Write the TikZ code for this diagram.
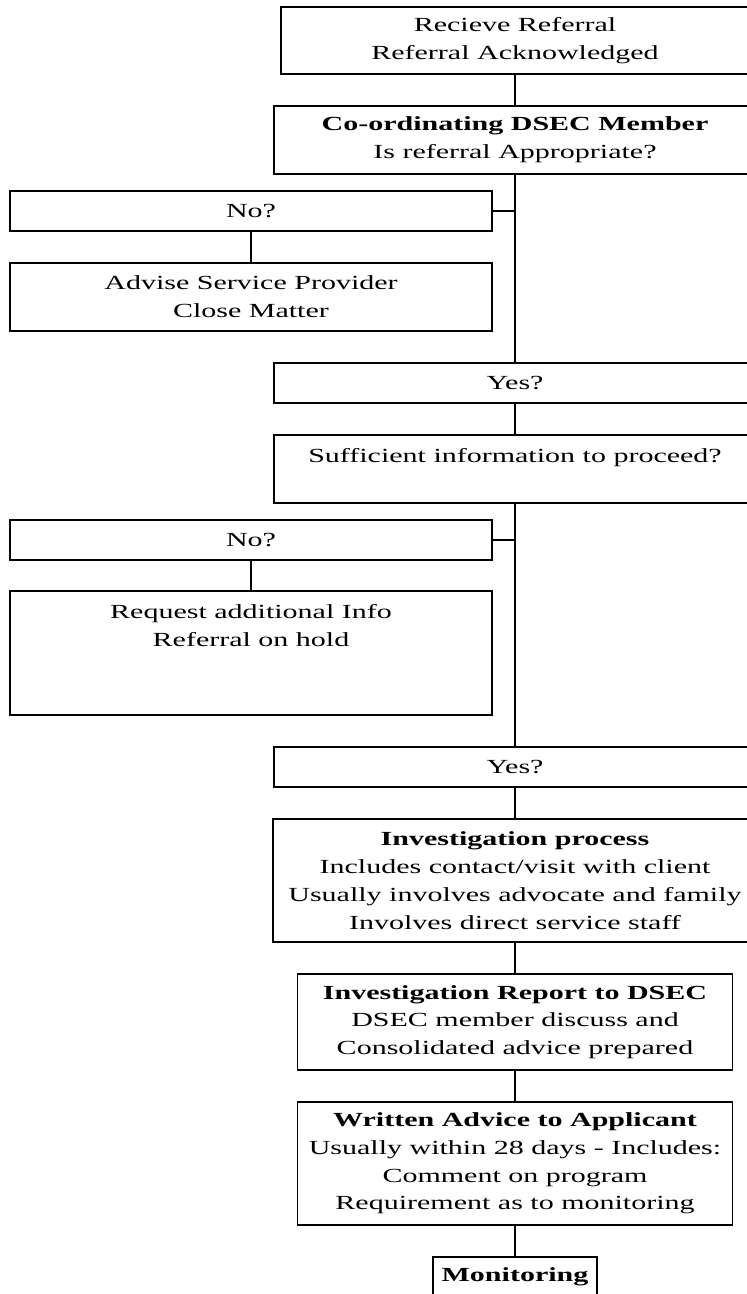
\documentclass[tikz,border=0pt]{standalone}
\usepackage{fontspec}
\setmainfont[FakeStretch=1.5]{Liberation Serif}
\usetikzlibrary{positioning}

\begin{document}
\begin{tikzpicture}[x=0.5pt, y=-0.5pt,
    box/.style={draw, line width=0.6pt, rectangle, align=center, inner sep=0pt,
      font=\fontsize{10}{13.9}\selectfont},
    wide/.style={box, minimum width=241pt},
    link/.style={line width=0.6pt}]
    % Frame
    \useasboundingbox (0,0) rectangle (747,1294);
    \clip (0,0) rectangle (747,1294);

    % Main column
    \node[box, minimum width=234pt, minimum height=33.5pt] (recv) at (515,40.5)
        {Recieve Referral\\Referral Acknowledged};
    \node[wide, minimum height=34pt] (coord) at (515,140)
        {\textbf{Co-ordinating DSEC Member}\\Is referral Appropriate?};
    \node[wide, minimum height=20pt] (yesA) at (515,383) {Yes?};
    \node[wide, minimum height=34pt] (suff) at (515,469)
        {Sufficient information to proceed?\\ \mbox{}};
    \node[wide, minimum height=20pt] (yesB) at (515,767) {Yes?};
    \node[box, minimum width=242pt, minimum height=61.5pt] (invproc) at (515,880.5)
        {\textbf{Investigation process}\\Includes contact/visit with client\\
         Usually involves advocate and family\\Involves direct service staff};
    \node[box, minimum width=217.5pt, minimum height=48pt] (report) at (515,1022)
        {\textbf{Investigation Report to DSEC}\\DSEC member discuss and\\
         Consolidated advice prepared};
    \node[box, minimum width=217.5pt, minimum height=61.5pt] (written) at (515,1163.5)
        {\textbf{Written Advice to Applicant}\\Usually within 28 days - Includes:\\
         Comment on program\\Requirement as to monitoring};
    \node[box, minimum width=82pt, minimum height=20pt] (monit) at (515,1277)
        {\textbf{Monitoring}};

    % Side branches
    \node[wide, minimum height=20pt] (noA) at (251,211) {No?};
    \node[wide, minimum height=34pt] (advise) at (251,297)
        {Advise Service Provider\\Close Matter};
    \node[wide, minimum height=20pt] (noB) at (251,540) {No?};
    \node[wide, minimum height=62pt] (request) at (251,653)
        {Request additional Info\\Referral on hold\\ \mbox{}\\ \mbox{}};

    % Connectors
    \draw[link] (recv) -- (coord);
    \draw[link] (coord) -- (yesA);
    \draw[link] (noA.east) -- (noA.east -| coord.south);
    \draw[link] (noA) -- (advise);
    \draw[link] (yesA) -- (suff);
    \draw[link] (suff) -- (yesB);
    \draw[link] (noB.east) -- (noB.east -| suff.south);
    \draw[link] (noB) -- (request);
    \draw[link] (yesB) -- (invproc);
    \draw[link] (invproc) -- (report);
    \draw[link] (report) -- (written);
    \draw[link] (written) -- (monit);
\end{tikzpicture}
\end{document}
